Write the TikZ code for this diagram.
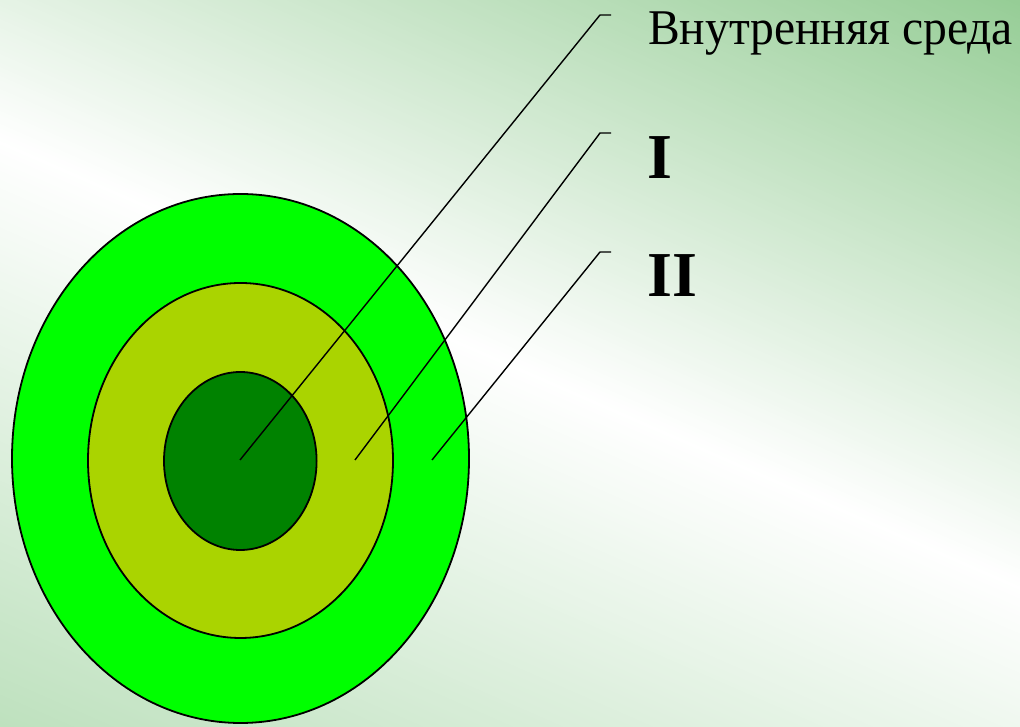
\documentclass[tikz,border=0pt]{standalone}
\usepackage{fontspec}
\setmainfont{Liberation Serif}
\definecolor{gtr}{RGB}{150,205,150}
\definecolor{gbl}{RGB}{190,225,190}
\definecolor{outerg}{RGB}{0,255,0}
\definecolor{midg}{RGB}{170,212,0}
\definecolor{innerg}{RGB}{0,130,0}
\begin{document}
\begin{tikzpicture}[x=1pt,y=1pt,
  ring/.style={draw=black, line width=1.8pt},
  leader/.style={draw=black, line width=1.4pt},
  lbl/.style={anchor=base west, inner sep=0pt, font=\fontsize{50}{60}\selectfont},
  roman/.style={anchor=base west, inner sep=0pt, font=\fontsize{64}{76}\selectfont\bfseries}]
\useasboundingbox (0,0) rectangle (1020,727);
% background gradient
\begin{scope}
  \clip (0,0) rectangle (1020,727);
  \begin{scope}[shift={(510,363.5)}, rotate=-23.6]
    \foreach \t in {0,4,...,540} {
      \pgfmathsetmacro{\p}{min(100,(\t+2)/5.365)}
      \fill[gtr!\p!white] (-700,\t) rectangle (700,\t+4.6);
    }
    \foreach \t in {0,4,...,540} {
      \pgfmathsetmacro{\p}{min(100,(\t+2)/5.365)}
      \fill[gbl!\p!white] (-700,-\t) rectangle (700,-\t-4.6);
    }
  \end{scope}
\end{scope}
% rings
\draw[ring, fill=outerg] (240.5,268.5) ellipse [x radius=228.5pt, y radius=264.5pt];
\draw[ring, fill=midg] (240.5,266.5) ellipse [x radius=152.5pt, y radius=177.5pt];
\draw[ring, fill=innerg] (240.3,266) ellipse [x radius=76.3pt, y radius=89pt];
% leader points
\coordinate (pA) at (240,267);
\coordinate (kA) at (600,712);
\coordinate (eA) at (611,712);
\coordinate (pI) at (355,267);
\coordinate (kI) at (600,594);
\coordinate (eI) at (611,594);
\coordinate (pII) at (432,267);
\coordinate (kII) at (600,475);
\coordinate (eII) at (611,475);
\draw[leader] (pA) -- (kA) -- (eA);
\draw[leader] (pI) -- (kI) -- (eI);
\draw[leader] (pII) -- (kII) -- (eII);
% labels
\node[lbl] (tA) at (648,682) {\scalebox{0.952}[1]{Внутренняя среда}};
\node[roman] (tI) at (647,548) {I};
\node[roman] (tII) at (647,430) {II};
\end{tikzpicture}
\end{document}
